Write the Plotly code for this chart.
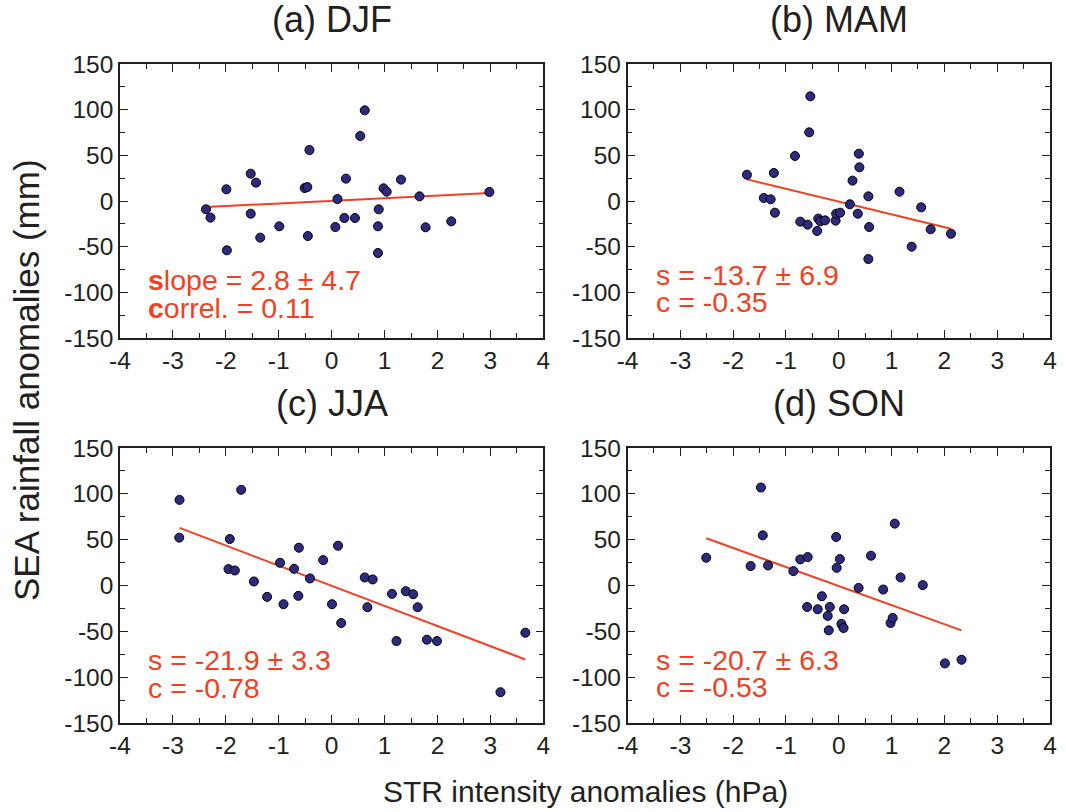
import plotly.graph_objects as go

# ---------------- data ----------------
panel_titles = ["(a) DJF", "(b) MAM", "(c) JJA", "(d) SON"]

djf_x = [-2.375, -2.29, -1.99, -1.98, -1.53, -1.43, -1.53, -1.35, -0.99, -0.51,
         -0.46, -0.42, -0.45, 0.07, 0.11, 0.27, 0.24, 0.44, 0.54, 0.625,
         0.89, 0.875, 0.875, 0.98, 1.04, 1.31, 1.66, 1.775, 2.26, 2.98]
djf_y = [-9.1, -18.2, 12.8, -54.0, 29.9, 20.1, -13.9, -40.1, -27.7, 14.2,
         15.3, 55.8, -38.3, -28.5, 2.2, 24.5, -18.6, -18.6, 71.2, 99.3,
         -9.1, -27.7, -56.9, 13.9, 10.2, 23.4, 5.1, -28.8, -22.3, 9.9]
djf_fit_x = [-2.375, 2.98]
djf_fit_y = [-6.6, 8.8]

mam_x = [-1.74, -1.42, -1.29, -1.23, -1.21, -0.83, -0.73, -0.59, -0.56, -0.54,
         -0.41, -0.39, -0.35, -0.26, -0.06, -0.05, 0.025, 0.21, 0.26, 0.36,
         0.38, 0.39, 0.56, 0.575, 0.56, 1.15, 1.38, 1.56, 1.74, 2.125]
mam_y = [28.8, 3.3, 1.8, 30.7, -12.8, 49.3, -22.6, -25.9, 75.2, 114.6,
         -32.8, -19.3, -22.3, -21.2, -21.5, -13.9, -12.8, -3.6, 22.3, -13.9,
         51.8, 36.9, 5.1, -28.5, -63.5, 10.2, -50.0, -6.9, -31.0, -35.8]
mam_fit_x = [-1.74, 2.125]
mam_fit_y = [23.7, -30.3]

jja_x = [-2.875, -2.88, -1.71, -1.925, -1.95, -1.83, -1.47, -1.22, -0.975, -0.91,
         -0.71, -0.62, -0.63, -0.41, -0.16, 0.006, 0.12, 0.18, 0.625, 0.775,
         0.675, 1.14, 1.225, 1.4, 1.54, 1.625, 1.8, 1.99, 3.19, 3.66]
jja_y = [93.4, 52.2, 104.4, 50.7, 17.9, 16.4, 4.4, -12.4, 24.8, -20.4,
         18.2, 41.2, -11.3, 7.7, 27.7, -20.4, 43.4, -40.9, 8.8, 6.6,
         -23.7, -9.1, -60.6, -6.2, -9.5, -23.7, -59.1, -60.6, -116.4, -51.5]
jja_fit_x = [-2.875, 3.66]
jja_fit_y = [62.8, -80.7]

son_x = [-2.51, -1.67, -1.475, -1.44, -1.34, -0.86, -0.73, -0.59, -0.60, -0.40,
         -0.32, -0.21, -0.19, -0.17, -0.05, -0.04, 0.02, 0.05, 0.09, 0.10,
         0.375, 0.61, 0.84, 0.98, 1.02, 1.06, 1.17, 1.59, 2.01, 2.325]
son_y = [30.3, 21.2, 106.9, 54.7, 21.9, 15.7, 28.5, 31.0, -23.4, -25.9,
         -11.7, -33.2, -48.9, -23.4, 52.9, 19.3, 28.8, -42.0, -46.4, -25.9,
         -2.6, 32.5, -4.4, -40.9, -35.4, 67.5, 8.8, 0.4, -85.0, -81.0]
son_fit_x = [-2.51, 2.325]
son_fit_y = [51.5, -48.9]

stat_line1 = ["<b>s</b>lope = 2.8 ± 4.7", "s = -13.7 ± 6.9", "s = -21.9 ± 3.3", "s = -20.7 ± 6.3"]
stat_line2 = ["<b>c</b>orrel. = 0.11", "c = -0.35", "c = -0.78", "c = -0.53"]

x_tick_vals = [-4, -3, -2, -1, 0, 1, 2, 3, 4]
y_tick_vals = [-150, -100, -50, 0, 50, 100, 150]

xs = [djf_x, mam_x, jja_x, son_x]
ys = [djf_y, mam_y, jja_y, son_y]
fxs = [djf_fit_x, mam_fit_x, jja_fit_x, son_fit_x]
fys = [djf_fit_y, mam_fit_y, jja_fit_y, son_fit_y]

# ---------------- style ----------------
W, H = 1066, 812
ML, MR, MT, MB = 120, 9, 64, 89
x_domains = [[0.0, 0.4552], [0.5458, 1.0], [0.0, 0.4552], [0.5458, 1.0]]
y_domains = [[0.5842, 1.0], [0.5842, 1.0], [0.0, 0.4173], [0.0, 0.4173]]
text_y1 = [-86.5, -81.0, -81.6, -81.0]
text_y2 = [-117.0, -111.0, -112.0, -111.0]

RED = "#ef4123"
DOT = "#2e2a80"
INK = "#231f20"
FONT = "Liberation Sans, Arial, Helvetica, sans-serif"

fig = go.Figure()
layout_axes = {}
annotations = []
for i in range(4):
    xa = "x" if i == 0 else f"x{i+1}"
    ya = "y" if i == 0 else f"y{i+1}"
    fig.add_trace(go.Scatter(x=fxs[i], y=fys[i], mode="lines",
                             line=dict(color=RED, width=2),
                             xaxis=xa, yaxis=ya, showlegend=False,
                             hoverinfo="skip"))
    fig.add_trace(go.Scatter(x=xs[i], y=ys[i], mode="markers",
                             marker=dict(color=DOT, size=9,
                                         line=dict(color="black", width=1)),
                             xaxis=xa, yaxis=ya, showlegend=False))
    common = dict(showline=True, linecolor=INK, linewidth=1.5, mirror="ticks",
                  ticks="inside", ticklen=8, tickwidth=1.2, tickcolor=INK,
                  showgrid=False, zeroline=False,
                  tickfont=dict(family=FONT, size=24.5, color=INK))
    layout_axes["xaxis" if i == 0 else f"xaxis{i+1}"] = dict(
        domain=x_domains[i], anchor=ya, range=[-4, 4],
        tickmode="array", tickvals=x_tick_vals,
        ticktext=[str(v) for v in x_tick_vals],
        minor=dict(dtick=0.5, tick0=0, ticks="inside", ticklen=5,
                   tickwidth=1.2, tickcolor=INK, showgrid=False),
        **common)
    layout_axes["yaxis" if i == 0 else f"yaxis{i+1}"] = dict(
        domain=y_domains[i], anchor=xa, range=[-150, 150],
        tickmode="array", tickvals=y_tick_vals,
        ticktext=[str(v) for v in y_tick_vals],
        minor=dict(dtick=25, tick0=0, ticks="inside", ticklen=5,
                   tickwidth=1.2, tickcolor=INK, showgrid=False),
        **common)
    xref = "x" if i == 0 else f"x{i+1}"
    yref = "y" if i == 0 else f"y{i+1}"
    annotations.append(dict(text=stat_line1[i], x=-3.5, y=text_y1[i], xref=xref, yref=yref,
                            xanchor="left", yanchor="middle", showarrow=False,
                            font=dict(family=FONT, size=28.5, color=RED)))
    annotations.append(dict(text=stat_line2[i], x=-3.5, y=text_y2[i], xref=xref, yref=yref,
                            xanchor="left", yanchor="middle", showarrow=False,
                            font=dict(family=FONT, size=28.5, color=RED)))
    # panel title
    annotations.append(dict(text=panel_titles[i],
                            x=sum(x_domains[i]) / 2, y=y_domains[i][1],
                            xref="paper", yref="paper", xanchor="center", yanchor="bottom",
                            yshift=22, showarrow=False,
                            font=dict(family=FONT, size=36, color=INK)))

annotations.append(dict(text="STR intensity anomalies (hPa)", x=0.5, y=0, xref="paper", yref="paper",
                        xanchor="center", yanchor="top", yshift=-50, showarrow=False,
                        font=dict(family=FONT, size=30, color=INK)))
annotations.append(dict(text="SEA rainfall anomalies (mm)", x=0, y=0.5205, xref="paper", yref="paper",
                        xanchor="center", yanchor="middle", xshift=-93, textangle=-90, showarrow=False,
                        font=dict(family=FONT, size=35, color=INK)))

fig.update_layout(width=W, height=H, margin=dict(l=ML, r=MR, t=MT, b=MB),
                  paper_bgcolor="white", plot_bgcolor="white",
                  annotations=annotations, **layout_axes)

# remove the default 8px page margin so the figure fills the window exactly
fig.write_html("out.html", config={"displayModeBar": False},
               post_script="document.body.style.margin='0';")
